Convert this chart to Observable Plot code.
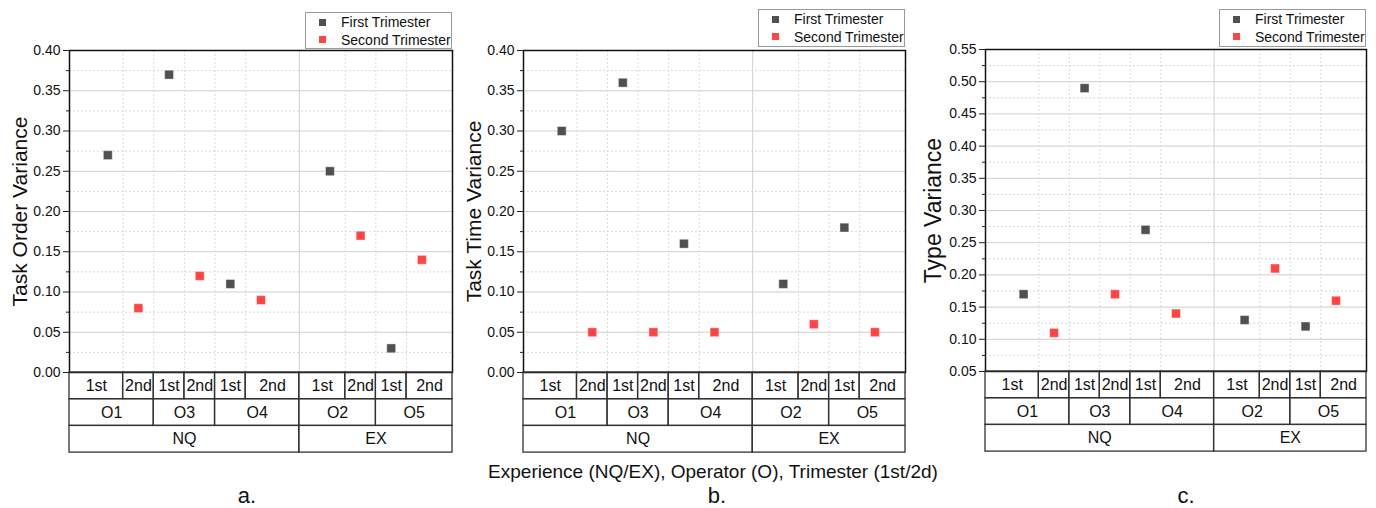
<!DOCTYPE html>
<html>
<head>
<meta charset="utf-8">
<script src="https://cdn.jsdelivr.net/npm/d3@7"></script>
<script src="https://cdn.jsdelivr.net/npm/@observablehq/plot@0.6"></script>
<style>
  html, body { margin: 0; padding: 0; background: #fff; }
  body { font-family: Arial, "Liberation Sans", sans-serif; color: #111; }
  #root { position: relative; width: 1376px; height: 508px; overflow: hidden; background: #fff; }
  .panel { position: absolute; top: 0; }
  .panel svg { overflow: visible; }
  .legend { position: absolute; border: 1px solid #9a9a9a; background: #fff; box-sizing: border-box; font-size: 14px; }
  .legend .row { position: absolute; left: 0; height: 18px; line-height: 18px; white-space: nowrap; }
  .legend .sw { position: absolute; width: 7px; height: 7px; top: 5.5px; }
  .legend .lab { position: absolute; }
  .caption { position: absolute; font-size: 22px; line-height: 22px; transform: translateX(-50%); white-space: nowrap; }
  .xtitle { position: absolute; font-size: 19px; line-height: 19px; transform: translateX(-50%); white-space: nowrap; }
</style>
</head>
<body>
<div id="root"></div>
<script>
// ---------- data ----------
const groups = ["NQ", "EX"];
const operators = ["O1", "O3", "O4", "O2", "O5"];
const operatorGroup = ["NQ", "NQ", "NQ", "EX", "EX"];
const trimesters = ["1st", "2nd"];
const seriesNames = ["First Trimester", "Second Trimester"];

const taskOrderFirst  = [0.27, 0.37, 0.11, 0.25, 0.03];
const taskOrderSecond = [0.08, 0.12, 0.09, 0.17, 0.14];
const taskTimeFirst   = [0.30, 0.36, 0.16, 0.11, 0.18];
const taskTimeSecond  = [0.05, 0.05, 0.05, 0.06, 0.05];
const typeFirst       = [0.17, 0.49, 0.27, 0.13, 0.12];
const typeSecond      = [0.11, 0.17, 0.14, 0.21, 0.16];

const yTitles = ["Task Order Variance", "Task Time Variance", "Type Variance"];
const panelLabels = ["a.", "b.", "c."];
const xTitle = "Experience (NQ/EX), Operator (O), Trimester (1st/2d)";

// ---------- layout ----------
const seriesColors = ["#505050", "#ff4444"];
const groupStart = {NQ: 0, EX: 7.5};
const groupEnd = {NQ: 7.5, EX: 12.5};
const firstSlot = {NQ: 1.25, EX: 8.5};
const rowH = 26.7;

const panels = [
  {first: taskOrderFirst, second: taskOrderSecond, yDomain: [0, 0.40], left: 0, width: 460,
   mL: 69, mR: 8, mT: 50, mB: 88, titleDx: -49, titleSize: 21,
   legend: {left: 305, top: 12, width: 147, height: 37}, caption: {x: 247}},
  {first: taskTimeFirst, second: taskTimeSecond, yDomain: [0, 0.40], left: 460, width: 456,
   mL: 63, mR: 11, mT: 50, mB: 88, titleDx: -49, titleSize: 21,
   legend: {left: 758, top: 9, width: 147, height: 38}, caption: {x: 717}},
  {first: typeFirst, second: typeSecond, yDomain: [0.05, 0.55], left: 916, width: 460,
   mL: 69, mR: 10, mT: 49, mB: 89, titleDx: -52, titleSize: 23,
   legend: {left: 1219, top: 9, width: 147, height: 38}, caption: {x: 1186}}
];

// ---------- category slots ----------
const slots = [];
const counter = {};
operators.forEach((op, i) => {
  const g = operatorGroup[i];
  trimesters.forEach((tr, t) => {
    counter[g] = (counter[g] ?? -1) + 1;
    slots.push({g, op, opIndex: i, tr, t, x: firstSlot[g] + counter[g]});
  });
});
slots.forEach((s, j) => {
  const prev = slots[j - 1], next = slots[j + 1];
  s.x1 = prev && prev.g === s.g ? (prev.x + s.x) / 2 : groupStart[s.g];
  s.x2 = next && next.g === s.g ? (next.x + s.x) / 2 : groupEnd[s.g];
});
const opCells = operators.map((op, i) => {
  const ss = slots.filter(s => s.opIndex === i);
  return {label: op, x1: d3.min(ss, s => s.x1), x2: d3.max(ss, s => s.x2)};
});
const groupCells = groups.map(g => ({label: g, x1: groupStart[g], x2: groupEnd[g]}));
const minorGridX = slots.filter((s, j) => slots[j + 1] && slots[j + 1].g === s.g).map(s => s.x2);
const majorGridX = groups.slice(1).map(g => groupStart[g]);

const root = document.getElementById("root");

panels.forEach((p, pi) => {
  const [y0, y1] = p.yDomain;
  const height = 460;
  const plotH = height - p.mT - p.mB;
  const k = (y1 - y0) / plotH; // data units per pixel
  const rowY = r => y0 - r * rowH * k;

  const points = slots.map(s => ({
    x: s.x,
    y: (s.t === 0 ? p.first : p.second)[s.opIndex],
    series: seriesNames[s.t]
  }));
  const trCells = slots.map(s => ({label: s.tr, x1: s.x1, x2: s.x2, row: 0}));
  const cells = [
    ...trCells,
    ...opCells.map(c => ({...c, row: 1})),
    ...groupCells.map(c => ({...c, row: 2}))
  ];
  const majorY = d3.ticks(y0, y1, 10);
  const minorY = majorY.slice(0, -1).map((v, i) => (v + majorY[i + 1]) / 2);

  const chart = Plot.plot({
    width: p.width,
    height,
    marginLeft: p.mL,
    marginRight: p.mR,
    marginTop: p.mT,
    marginBottom: p.mB,
    style: {fontFamily: "Arial, 'Liberation Sans', sans-serif", fontSize: "14px", color: "#111", background: "#fff"},
    x: {domain: [0, 12.5], axis: null},
    y: {domain: p.yDomain, axis: null},
    color: {domain: seriesNames, range: seriesColors},
    marks: [
      Plot.ruleY(minorY, {stroke: "#d8d8d8", strokeDasharray: "2,2", strokeWidth: 1}),
      Plot.ruleY(majorY, {stroke: "#cfcfcf", strokeWidth: 1}),
      Plot.ruleX(minorGridX, {stroke: "#dadada", strokeDasharray: "2,2", strokeWidth: 1}),
      Plot.ruleX(majorGridX, {stroke: "#cfcfcf", strokeWidth: 1}),
      Plot.axisY({ticks: minorY, tickSize: 3, tickFormat: () => "", label: null, stroke: "#222"}),
      Plot.axisY({ticks: majorY, tickSize: 6, tickPadding: 3, tickFormat: d3.format(".2f"), label: null,
                  fontSize: 14, stroke: "#222", fill: "#111"}),
      Plot.frame({stroke: "#111", strokeWidth: 1.5}),
      Plot.rect(cells, {x1: "x1", x2: "x2", y1: d => rowY(d.row), y2: d => rowY(d.row + 1),
                        fill: "none", stroke: "#333", strokeWidth: 1.3}),
      Plot.text(cells, {x: d => (d.x1 + d.x2) / 2, y: d => rowY(d.row + 0.5), text: "label",
                        fontSize: 16, fill: "#111"}),
      Plot.dot(points, {x: "x", y: "y", fill: "series", symbol: "square", r: 5,
                        stroke: "#fff", strokeWidth: 0.4}),
      Plot.text([yTitles[pi]], {frameAnchor: "left", textAnchor: "middle", dx: p.titleDx, rotate: -90,
                                fontSize: p.titleSize, fill: "#111"})
    ]
  });
  const wrap = document.createElement("div");
  wrap.className = "panel";
  wrap.style.left = p.left + "px";
  wrap.appendChild(chart);
  root.appendChild(wrap);

  // legend
  const lg = document.createElement("div");
  lg.className = "legend";
  Object.assign(lg.style, {left: p.legend.left + "px", top: p.legend.top + "px",
                           width: p.legend.width + "px", height: p.legend.height + "px"});
  seriesNames.forEach((name, si) => {
    const row = document.createElement("div");
    row.className = "row";
    row.style.top = (0 + si * 17.5) + "px";
    const sw = document.createElement("div");
    sw.className = "sw";
    sw.style.left = "13px";
    sw.style.background = seriesColors[si];
    const lab = document.createElement("div");
    lab.className = "lab";
    lab.style.left = "35px";
    lab.textContent = name;
    row.appendChild(sw);
    row.appendChild(lab);
    lg.appendChild(row);
  });
  root.appendChild(lg);

  // caption
  const cap = document.createElement("div");
  cap.className = "caption";
  cap.style.left = p.caption.x + "px";
  cap.style.top = "485px";
  cap.textContent = panelLabels[pi];
  root.appendChild(cap);
});

const xt = document.createElement("div");
xt.className = "xtitle";
xt.style.left = "713px";
xt.style.top = "462px";
xt.textContent = xTitle;
root.appendChild(xt);
</script>
</body>
</html>
